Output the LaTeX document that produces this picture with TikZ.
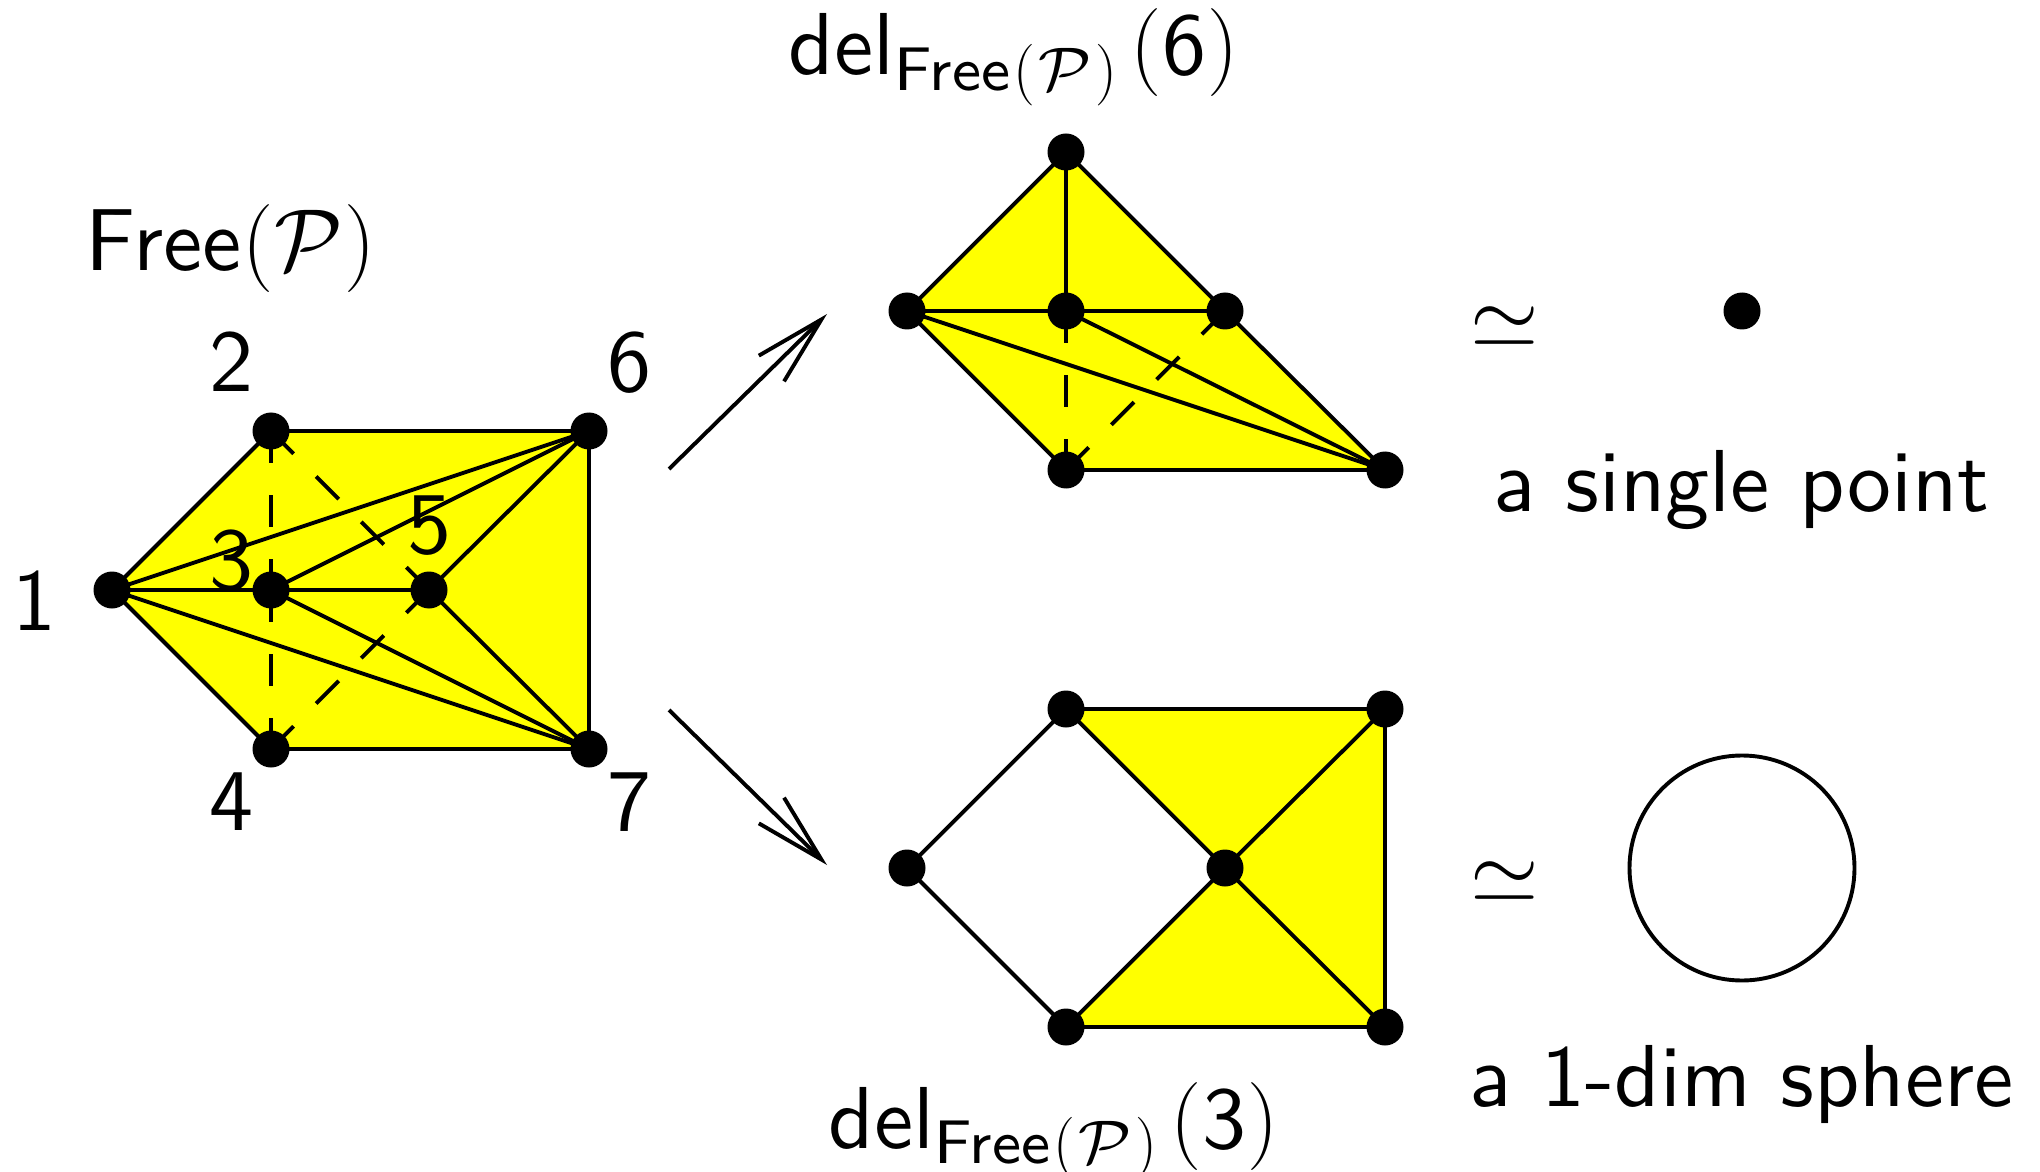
\documentclass[tikz,border=0pt]{standalone}
\usepackage{amsmath}
\usetikzlibrary{arrows.meta,backgrounds}
\newcommand{\thinpar}[3]{\mbox{\kern#3\scalebox{#1}{\fontfamily{cmr}\fontseries{m}\fontshape{n}\fontsize{17.28}{20}\selectfont #2}\kern#3}}
\newcommand{\lpar}{\mathopen{\thinpar{.5787}{(}{.12pt}}}
\newcommand{\rpar}{\mathclose{\thinpar{.5787}{)}{.12pt}}}
\newcommand{\lparsub}{\mathopen{\thinpar{.405}{(}{.3pt}}}
\newcommand{\rparsub}{\mathclose{\thinpar{.405}{)}{.3pt}}}
\tikzset{
  x=0.2pt,y=-0.2pt,
  vertex/.style={circle,fill=black,draw=none,minimum size=7.4pt,inner sep=0pt},
  edge/.style={line width=0.78pt,line join=miter},
  hidden/.style={line width=0.78pt,dash pattern=on 6.4pt off 6.4pt},
  face/.style={fill={rgb,1:red,1;green,1;blue,0}},
  label/.style={inner sep=0pt,anchor=base,font=\sffamily,scale=1.76},
  title/.style={inner sep=0pt,anchor=base west,font=\sffamily,scale=1.76},
  mapto/.style={line width=0.78pt,-{Straight Barb[length=14pt,width=7.2pt,line width=0.78pt]}}
}
\begin{document}
\begin{tikzpicture}
\useasboundingbox (0,0) rectangle (2040,1172);
% left complex
\node[vertex] (v1) at (112,590) {};
\node[vertex] (v2) at (271,431) {};
\node[vertex] (v3) at (271,590) {};
\node[vertex] (v4) at (271,749) {};
\node[vertex] (v5) at (429,590) {};
\node[vertex] (v6) at (589,431) {};
\node[vertex] (v7) at (589,749) {};
\begin{scope}[on background layer]
\fill[face] (v1.center)--(v2.center)--(v6.center)--(v7.center)--(v4.center)--cycle;
\end{scope}
\draw[edge] (v1.center)--(v2.center)--(v6.center)--(v7.center)--(v4.center)--(v1.center);
\draw[edge] (v1.center)--(v5.center);
\draw[edge] (v1.center)--(v6.center);
\draw[edge] (v1.center)--(v7.center);
\draw[edge] (v3.center)--(v6.center);
\draw[edge] (v3.center)--(v7.center);
\draw[edge] (v5.center)--(v6.center);
\draw[edge] (v5.center)--(v7.center);
\draw[hidden] (v2.center)--(v3.center);
\draw[hidden] (v3.center)--(v4.center);
\draw[hidden] (v2.center)--(v5.center);
\draw[hidden] (v4.center)--(v5.center);
\node[label] (l1) at (35,630) {1};
\node[label] (l2) at (231,392) {2};
\node[label] (l3) at (231,589) {3};
\node[label] (l4) at (231,830) {4};
\node[label] (l5) at (429,553) {5};
\node[label] (l6) at (629,392) {6};
\node[label] (l7) at (629,830) {7};
\node[title] (tfree) at (84,271) {Free$\lpar\mathcal{P}\rpar$};
% upper link
\node[vertex] (a1) at (1066,152) {};
\node[vertex] (a2) at (907,311) {};
\node[vertex] (a3) at (1066,311) {};
\node[vertex] (a4) at (1225,311) {};
\node[vertex] (a5) at (1066,470) {};
\node[vertex] (a6) at (1385,470) {};
\begin{scope}[on background layer]
\fill[face] (a1.center)--(a4.center)--(a6.center)--(a5.center)--(a2.center)--cycle;
\end{scope}
\draw[edge] (a1.center)--(a4.center)--(a6.center)--(a5.center)--(a2.center)--(a1.center);
\draw[edge] (a1.center)--(a3.center);
\draw[edge] (a2.center)--(a4.center);
\draw[edge] (a2.center)--(a6.center);
\draw[edge] (a3.center)--(a6.center);
\draw[hidden] (a3.center)--(a5.center);
\draw[hidden] (a5.center)--(a4.center);
\node[title] (tdel6) at (787,75) {del$_{\mathsf{Free}\lparsub\mathcal{P}\rparsub}\kern.6pt\lpar\mathsf{6}\rpar$};
% lower link
\node[vertex] (b1) at (907,868) {};
\node[vertex] (b2) at (1066,709) {};
\node[vertex] (b3) at (1225,868) {};
\node[vertex] (b4) at (1385,709) {};
\node[vertex] (b5) at (1066,1027) {};
\node[vertex] (b6) at (1385,1027) {};
\begin{scope}[on background layer]
\fill[face] (b2.center)--(b4.center)--(b6.center)--(b5.center)--(b3.center)--cycle;
\end{scope}
\draw[edge] (b2.center)--(b1.center)--(b5.center)--(b6.center)--(b4.center)--(b2.center)--(b3.center)--(b6.center);
\draw[edge] (b4.center)--(b3.center)--(b5.center);
\node[title] (tdel3) at (827,1148) {del$_{\mathsf{Free}\lparsub\mathcal{P}\rparsub}\kern.6pt\lpar\mathsf{3}\rpar$};
% arrows
\coordinate (p1) at (669,469);
\coordinate (q1) at (827,314);
\coordinate (p2) at (669,710);
\coordinate (q2) at (827,865);
\draw[mapto] (p1)--(q1);
\draw[mapto] (p2)--(q2);
% right side
\node[inner sep=0pt,scale=1.76] (s1) at (1505,327) {$\simeq$};
\node[inner sep=0pt,scale=1.76] (s2) at (1505,882) {$\simeq$};
\node[vertex] (pt) at (1742,311) {};
\node[circle,draw,line width=0.78pt,minimum size=45pt,inner sep=0pt] (sph) at (1742,868) {};
\node[title] (tpt) at (1492,511) {a single point};
\node[title] (tsph) at (1468,1106) {a 1-dim sphere};
\end{tikzpicture}
\end{document}
